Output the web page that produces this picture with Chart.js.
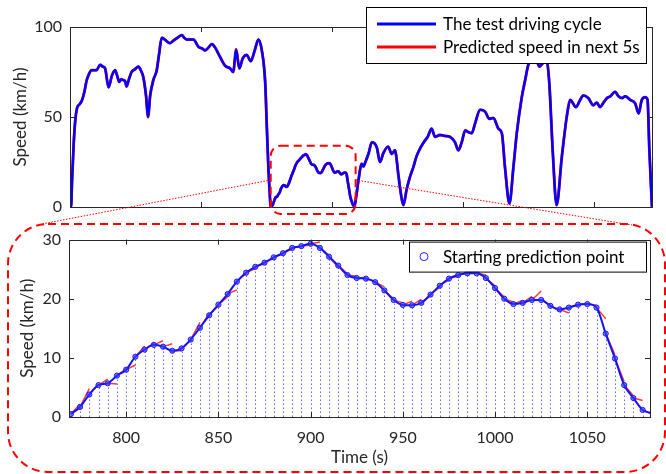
<!DOCTYPE html>
<html>
<head>
<meta charset="utf-8">
<title>Speed prediction</title>
<script src="https://cdn.jsdelivr.net/npm/chart.js@4.4.1/dist/chart.umd.min.js"></script>
<style>
    html, body { margin: 0; padding: 0; background: #fff; }
    #page { position: relative; width: 666px; height: 474px; overflow: hidden; }
    .wrap { position: absolute; left: 0; width: 666px; }
    #top-wrap { top: 0; height: 225px; }
    #bottom-wrap { top: 222px; height: 252px; }
    #overlay { position: absolute; left: 0; top: 0; pointer-events: none; }
</style>
</head>
<body>
<div id="page">
    <div class="wrap" id="top-wrap"><canvas id="top-chart"></canvas></div>
    <div class="wrap" id="bottom-wrap"><canvas id="bottom-chart"></canvas></div>
    <canvas id="overlay" width="666" height="474"></canvas>
</div>
<script>
// whole driving cycle, before the zoomed part (s, km/h)
const preTime = [0, 4, 8, 14, 20, 27, 36, 45, 55, 63, 70, 82, 92, 101, 115, 125, 134, 147, 160, 172, 180, 188, 196, 203, 210, 216, 225, 235, 248, 261, 270, 280, 290, 298, 306, 318, 331, 340, 350, 362, 381, 395, 410, 427, 436, 446, 458, 471, 490, 505, 515, 528, 541, 556, 572, 592, 611, 623, 634, 646, 659, 674, 690, 705, 719, 732, 745, 751, 757, 762, 766];
const preSpeed = [0, 0, 15, 35, 48, 55, 57, 59, 64, 70, 73, 76, 76, 76, 79, 78, 77, 66.5, 73, 76, 73, 69.5, 71, 70.5, 70, 67, 71, 75, 76.5, 78, 76, 72, 62, 50, 62, 70.5, 76, 85, 94, 93, 91, 92.5, 94, 95.5, 94, 93, 93, 93, 89, 88, 87, 88.5, 90.5, 88, 83.5, 78.5, 77, 75, 87.5, 77, 82.5, 84.5, 81, 87, 93, 87, 69, 45, 22, 8, 0];

// zoomed part: starting prediction points every 5 s
const zoomTime = [770, 775, 780, 785, 790, 795, 800, 805, 810, 815, 820, 825, 830, 835, 840, 845, 850, 855, 860, 865, 870, 875, 880, 885, 890, 895, 900, 905, 910, 915, 920, 925, 930, 935, 940, 945, 950, 955, 960, 965, 970, 975, 980, 985, 990, 995, 1000, 1005, 1010, 1015, 1020, 1025, 1030, 1035, 1040, 1045, 1050, 1055, 1060, 1065, 1070, 1075, 1080];
const zoomSpeed = [0.5, 1.7, 3.8, 5.4, 5.7, 7.0, 8.0, 10.2, 11.4, 12.2, 11.9, 11.2, 11.6, 13.1, 15.1, 17.2, 19.0, 20.8, 22.9, 24.4, 25.4, 26.1, 27.0, 27.7, 28.6, 28.9, 29.3, 28.6, 27.1, 25.6, 24.0, 23.5, 23.4, 22.8, 21.4, 19.8, 18.95, 18.9, 19.3, 20.7, 22.2, 23.4, 24.0, 24.3, 24.3, 23.5, 21.8, 20.0, 19.1, 19.3, 19.8, 19.8, 18.8, 18.2, 18.5, 19.0, 19.1, 18.5, 14.1, 9.9, 5.4, 3.2, 1.2];
const zoomEndTime = 1084;
const zoomEndSpeed = 0.7;

// predicted speed 5 s after each starting point
const predHorizon = 5;
const predEndSpeed = [2.2, 4.8, 5.6, 6.4, 5.6, 8.2, 8.8, 12.0, 12.5, 12.9, 12.4, 11.2, 13.0, 16.0, 17.5, 18.8, 20.3, 21.5, 24.3, 25.1, 25.9, 26.8, 27.6, 28.4, 28.8, 29.1, 29.6, 27.4, 25.3, 24.2, 23.8, 23.6, 22.9, 22.0, 20.0, 19.3, 19.6, 19.9, 20.5, 22.0, 23.2, 23.8, 24.4, 24.9, 24.0, 22.2, 20.3, 19.4, 19.7, 20.4, 21.3, 18.9, 17.9, 17.6, 18.9, 19.2, 18.9, 16.6, 10.5, 6.0, 3.6, 2.8, 0.5];

// whole driving cycle, after the zoomed part
const postTime = [1088, 1100, 1113, 1120, 1126, 1140, 1152, 1171, 1183, 1196, 1214, 1228, 1240, 1253, 1262, 1272, 1285, 1298, 1310, 1322, 1336, 1350, 1365, 1380, 1393, 1412, 1430, 1450, 1469, 1482, 1495, 1508, 1522, 1533, 1546, 1565, 1584, 1600, 1616, 1635, 1648, 1660, 1677, 1692, 1705, 1724, 1737, 1749, 1765, 1781, 1791, 1805, 1819, 1829, 1842, 1857, 1877, 1896, 1909, 1931, 1945, 1959, 1978, 1997, 2010, 2023, 2036, 2049, 2062, 2080, 2093, 2106, 2119, 2138, 2157, 2170, 2182, 2195, 2204, 2211, 2221];
const postSpeed = [2, 14, 24, 22.5, 24.5, 30, 36, 33, 25, 30, 33.5, 29.5, 31.5, 18, 8, 1, 10, 17, 22, 28, 32.5, 36, 39, 43.5, 39, 40, 39.5, 39, 36, 31.5, 36, 42.5, 41.5, 41, 46.5, 54, 53, 49, 49.5, 43.5, 41, 22, 2, 22, 41, 61, 70.5, 79, 81.5, 81, 78, 80, 81, 69, 31.5, 1, 28, 50.5, 59.5, 55.5, 59, 62, 60.5, 56.5, 58, 55.5, 58, 60.5, 61.5, 64, 61.5, 60.5, 61.5, 59.5, 57.5, 52, 59.5, 61, 59.5, 31.5, 0];

// axes
const topRange = [0, 2221];
const topXTicks = [500, 1000, 1500, 2000];
const topYTicks = [0, 50, 100];
const bottomRange = [769, 1084];
const bottomXTicks = [800, 850, 900, 950, 1000, 1050];
const bottomYTicks = [0, 10, 20, 30];

const FONT = "Lato, 'Open Sans', sans-serif";
const AXIS_COLOR = "#262626";

document.addEventListener("DOMContentLoaded", () => {
    const topTime = preTime.concat(zoomTime, [zoomEndTime], postTime);
    const topSpeed = preSpeed.concat(zoomSpeed, [zoomEndSpeed], postSpeed);
    const topPoints = topTime.map((t, i) => ({ x: t, y: topSpeed[i] }));

    const zoomPoints = zoomTime.map((t, i) => ({ x: t, y: zoomSpeed[i] }));
    const zoomLine = zoomPoints.concat([{ x: zoomEndTime, y: zoomEndSpeed }]);

    const predSegments = [];
    zoomTime.forEach((t, i) => {
        predSegments.push({ x: t, y: zoomSpeed[i] });
        predSegments.push({ x: t + predHorizon, y: predEndSpeed[i] });
        predSegments.push({ x: t + predHorizon, y: null });
    });

    function fixedTicks(values) {
        return scale => { scale.ticks = values.map(v => ({ value: v })); };
    }

    // box round the plot with inward tick marks
    const framePlugin = {
        id: "frame",
        afterDatasetsDraw(chart) {
            const { ctx, chartArea: a, scales } = chart;
            ctx.save();
            ctx.strokeStyle = AXIS_COLOR;
            ctx.lineWidth = 1;
            ctx.strokeRect(Math.round(a.left) + 0.5, Math.round(a.top) + 0.5, Math.round(a.width), Math.round(a.height));
            ctx.beginPath();
            scales.x.ticks.forEach(tk => {
                const px = Math.round(scales.x.getPixelForValue(tk.value)) + 0.5;
                ctx.moveTo(px, a.top); ctx.lineTo(px, a.top + 5);
                ctx.moveTo(px, a.bottom); ctx.lineTo(px, a.bottom - 5);
            });
            scales.y.ticks.forEach(tk => {
                const py = Math.round(scales.y.getPixelForValue(tk.value)) + 0.5;
                ctx.moveTo(a.left, py); ctx.lineTo(a.left + 5, py);
                ctx.moveTo(a.right, py); ctx.lineTo(a.right - 5, py);
            });
            ctx.stroke();
            ctx.restore();
        }
    };

    const topLegend = {
        id: "topLegend",
        afterDraw(chart) {
            const ctx = chart.ctx;
            const a = chart.chartArea;
            const x0 = a.right - 286, y0 = 7, w = 280, h = 56;
            ctx.save();
            ctx.fillStyle = "#fff";
            ctx.fillRect(x0, y0, w, h);
            ctx.strokeStyle = "#000";
            ctx.lineWidth = 1;
            ctx.strokeRect(x0 + 0.5, y0 + 0.5, w, h);
            chart.data.datasets.forEach((ds, i) => {
                const y = y0 + 17 + i * 23;
                ctx.strokeStyle = ds.borderColor;
                ctx.lineWidth = 3;
                ctx.beginPath();
                ctx.moveTo(x0 + 11, y);
                ctx.lineTo(x0 + 70, y);
                ctx.stroke();
                ctx.fillStyle = "#000";
                ctx.font = "17px " + FONT;
                ctx.textBaseline = "middle";
                ctx.fillText(ds.label, x0 + 77, y + 1);
            });
            ctx.restore();
        }
    };

    const topChart = new Chart(document.getElementById("top-chart"), {
        type: "line",
        data: {
            datasets: [{
                label: "The test driving cycle",
                data: topPoints,
                borderColor: "#0000ff",
                borderWidth: 2.5,
                pointRadius: 0,
                cubicInterpolationMode: "monotone"
            }, {
                label: "Predicted speed in next 5s",
                data: topPoints,
                borderColor: "#ff0000",
                borderWidth: 2.8,
                pointRadius: 0,
                cubicInterpolationMode: "monotone"
            }]
        },
        options: {
            responsive: true,
            maintainAspectRatio: false,
            animation: false,
            events: [],
            layout: { padding: { top: 27, right: 14, left: 0, bottom: 0 } },
            plugins: { legend: { display: false }, tooltip: { enabled: false } },
            scales: {
                x: {
                    type: "linear",
                    min: topRange[0],
                    max: topRange[1],
                    grid: { display: false, drawTicks: false },
                    border: { display: false },
                    ticks: { display: false },
                    afterBuildTicks: fixedTicks(topXTicks),
                    afterFit: s => { s.height = 18; }
                },
                y: {
                    min: 0,
                    max: 100,
                    grid: { display: false, drawTicks: false },
                    border: { display: false },
                    ticks: { color: AXIS_COLOR, font: { family: FONT, size: 16 }, padding: 8 },
                    afterBuildTicks: fixedTicks(topYTicks),
                    afterFit: s => { s.width = 70; },
                    title: {
                        display: true,
                        text: "Speed (km/h)",
                        color: AXIS_COLOR,
                        font: { family: FONT, size: 17 },
                        padding: { top: 10, bottom: 0 }
                    }
                }
            }
        },
        plugins: [framePlugin, topLegend]
    });

    // dotted drop lines from each starting point
    const dropLines = {
        id: "dropLines",
        beforeDatasetsDraw(chart) {
            const { ctx, scales } = chart;
            const y0 = scales.y.getPixelForValue(0);
            ctx.save();
            ctx.strokeStyle = "rgba(40, 40, 255, 0.7)";
            ctx.lineWidth = 1;
            ctx.setLineDash([1.5, 2.5]);
            ctx.beginPath();
            zoomTime.forEach((t, i) => {
                const px = Math.round(scales.x.getPixelForValue(t)) + 0.5;
                ctx.moveTo(px, y0);
                ctx.lineTo(px, scales.y.getPixelForValue(zoomSpeed[i]));
            });
            ctx.stroke();
            ctx.restore();
        }
    };

    const bottomLegend = {
        id: "bottomLegend",
        afterDraw(chart) {
            const ctx = chart.ctx;
            const a = chart.chartArea;
            const x0 = a.right - 241, y0 = a.top + 2, w = 237, h = 30;
            ctx.save();
            ctx.fillStyle = "#fff";
            ctx.fillRect(x0, y0, w, h);
            ctx.strokeStyle = "#000";
            ctx.lineWidth = 1;
            ctx.strokeRect(x0 + 0.5, y0 + 0.5, w, h);
            ctx.strokeStyle = "#2020ff";
            ctx.beginPath();
            ctx.arc(x0 + 15, y0 + 15, 4, 0, Math.PI * 2);
            ctx.stroke();
            ctx.fillStyle = "#000";
            ctx.font = "17px " + FONT;
            ctx.textBaseline = "middle";
            ctx.fillText(chart.data.datasets[0].label, x0 + 34, y0 + 16);
            ctx.restore();
        }
    };

    const bottomChart = new Chart(document.getElementById("bottom-chart"), {
        type: "line",
        data: {
            datasets: [{
                label: "Starting prediction point",
                data: zoomPoints,
                showLine: false,
                pointRadius: 2.6,
                pointBorderWidth: 1,
                pointBorderColor: "#1a1aff",
                pointBackgroundColor: "rgba(60, 60, 255, 0.65)"
            }, {
                label: "The test driving cycle",
                data: zoomLine,
                borderColor: "#1010ff",
                borderWidth: 2,
                pointRadius: 0,
                cubicInterpolationMode: "monotone"
            }, {
                label: "Predicted speed in next 5s",
                data: predSegments,
                borderColor: "rgba(255, 20, 20, 0.85)",
                borderWidth: 1.5,
                pointRadius: 0,
                spanGaps: false
            }]
        },
        options: {
            responsive: true,
            maintainAspectRatio: false,
            animation: false,
            events: [],
            layout: { padding: { top: 14, right: 16, left: 0, bottom: 0 } },
            plugins: { legend: { display: false }, tooltip: { enabled: false } },
            scales: {
                x: {
                    type: "linear",
                    min: bottomRange[0],
                    max: bottomRange[1],
                    grid: { display: false, drawTicks: false },
                    border: { display: false },
                    ticks: {
                        color: AXIS_COLOR,
                        font: { family: FONT, size: 16 },
                        padding: 11,
                        maxRotation: 0,
                        callback: v => String(v)
                    },
                    afterBuildTicks: fixedTicks(bottomXTicks),
                    afterFit: s => { s.height = 57; },
                    title: {
                        display: true,
                        text: "Time (s)",
                        color: AXIS_COLOR,
                        font: { family: FONT, size: 17 },
                        padding: { top: 0, bottom: 6 }
                    }
                },
                y: {
                    min: 0,
                    max: 30,
                    grid: { display: false, drawTicks: false },
                    border: { display: false },
                    ticks: { color: AXIS_COLOR, font: { family: FONT, size: 16 }, padding: 8 },
                    afterBuildTicks: fixedTicks(bottomYTicks),
                    afterFit: s => { s.width = 69; },
                    title: {
                        display: true,
                        text: "Speed (km/h)",
                        color: AXIS_COLOR,
                        font: { family: FONT, size: 17 },
                        padding: { top: 17, bottom: 0 }
                    }
                }
            }
        },
        plugins: [dropLines, framePlugin, bottomLegend]
    });

    function roundRect(ctx, x, y, w, h, r) {
        ctx.beginPath();
        ctx.moveTo(x + r, y);
        ctx.arcTo(x + w, y, x + w, y + h, r);
        ctx.arcTo(x + w, y + h, x, y + h, r);
        ctx.arcTo(x, y + h, x, y, r);
        ctx.arcTo(x, y, x + w, y, r);
        ctx.closePath();
        ctx.stroke();
    }

    // zoom markers across both charts
    function drawOverlay() {
        const ctx = document.getElementById("overlay").getContext("2d");
        const tx = topChart.scales.x, ty = topChart.scales.y;
        const left = tx.getPixelForValue(766);
        const right = tx.getPixelForValue(1090);
        const top = ty.getPixelForValue(34);
        const bottom = ty.bottom + 7;
        const linkY = ty.getPixelForValue(15);

        const bigTop = 222 + 2, bigBottom = 472, bigLeft = 8, bigRight = 665;

        ctx.save();
        ctx.strokeStyle = "#ff0000";
        ctx.lineWidth = 2;
        ctx.setLineDash([8, 5]);
        roundRect(ctx, left, top, right - left, bottom - top, 10);
        roundRect(ctx, bigLeft, bigTop, bigRight - bigLeft, bigBottom - bigTop, 40);

        ctx.lineWidth = 1;
        ctx.setLineDash([1.5, 1.5]);
        ctx.beginPath();
        ctx.moveTo(left, linkY);
        ctx.lineTo(42, bigTop);
        ctx.moveTo(right, linkY);
        ctx.lineTo(632, bigTop + 1);
        ctx.stroke();
        ctx.restore();
    }

    drawOverlay();
});
</script>
</body>
</html>
